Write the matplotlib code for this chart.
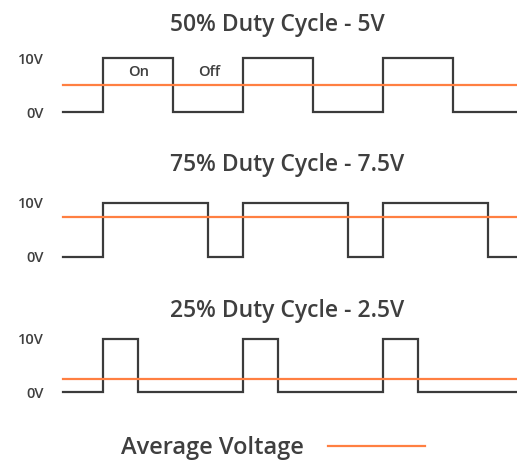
import matplotlib
matplotlib.use("Agg")
import matplotlib.pyplot as plt

plt.rcParams['font.family'] = ['Open Sans', 'DejaVu Sans']

# step data (time units, volts) for each panel, steps-post
t_50 = [0, 4, 11, 18, 25, 32, 39, 45.4]
t_75 = [0, 4, 14.5, 18, 28.5, 32, 42.5, 45.4]
t_25 = [0, 4, 7.5, 18, 21.5, 32, 35.5, 45.4]
levels = [0, 10, 0, 10, 0, 10, 0, 0]

titles = ["50% Duty Cycle - 5V", "75% Duty Cycle - 7.5V", "25% Duty Cycle - 2.5V"]
averages = [5, 7.5, 2.5]
times = [t_50, t_75, t_25]
ytick_vals = [0, 10]
ytick_labels = ["0V", "10V"]

W, H = 517, 462
fig = plt.figure(figsize=(W / 100, H / 100), dpi=100)

wave_color = '#3b3b3b'
avg_color = '#ff7f41'
text_color = '#3f3f3f'

# pixel rows of 0V / 10V for each panel
rows = [(112, 58), (257, 203), (392, 339)]
title_base = [31, 171, 317]
x0, x1 = 63, 517

avg_line = None
for i in range(3):
    y0, y10 = rows[i]
    span = (y0 - y10) / 10.0
    bot_px = y0 + span * 1.0
    top_px = y10 - span * 1.0
    ax = fig.add_axes([x0 / W, 1 - bot_px / H, (x1 - x0) / W, (bot_px - top_px) / H])
    ax.set_xlim(0, 45.4)
    ax.set_ylim(-1, 11)
    ax.plot(times[i], levels, drawstyle='steps-post', color=wave_color, lw=1.6,
            solid_joinstyle='miter', clip_on=False)
    avg_line, = ax.plot([0, 45.4], [averages[i]] * 2, color=avg_color, lw=1.6,
                        clip_on=False)
    ax.set_yticks(ytick_vals)
    ax.set_yticklabels(ytick_labels, fontweight='semibold')
    ax.set_xticks([])
    ax.tick_params(axis='y', length=0, pad=14, labelsize=10.5, labelcolor=text_color)
    for s in ax.spines.values():
        s.set_visible(False)
    ax.patch.set_alpha(0)
    fig.text(170 / W, 1 - title_base[i] / H, titles[i], ha='left', va='baseline',
             fontsize=16.5, fontweight='semibold', color=text_color)
    if i == 0:
        ax.text(7.6, 7.4, "On", ha='center', va='center', fontsize=10.5,
                fontweight='semibold', color=text_color)
        ax.text(14.6, 7.4, "Off", ha='center', va='center', fontsize=10.5,
                fontweight='semibold', color=text_color)

fig.legend(handles=[avg_line], labels=["Average Voltage"], markerfirst=False,
           frameon=False, loc='center', bbox_to_anchor=(273 / W, 1 - 448 / H),
           prop={'size': 17, 'weight': 'semibold'}, handlelength=4.1,
           handletextpad=1.0, labelcolor=text_color)

fig.savefig("out.png", dpi=100)
